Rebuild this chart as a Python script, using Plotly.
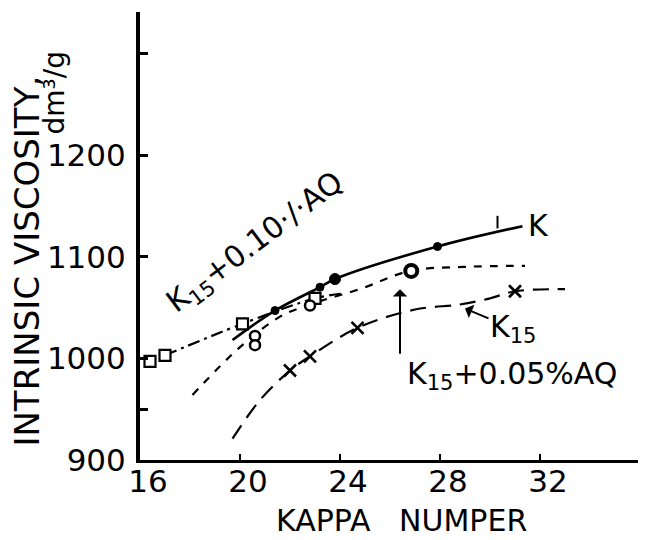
import plotly.graph_objects as go

FONT = "DejaVu Sans"

# ---- data ----
# K (solid line, filled dots)
k_line_x = [19.7, 21.4, 23.2, 23.8, 27.9, 31.3]
k_line_y = [1018, 1047, 1070, 1078, 1110, 1130]
k_pts_x = [21.4, 23.2, 23.8, 27.9]
k_pts_y = [1047, 1070, 1078, 1110]
k_pts_size = [8, 8, 11, 8]
k_tick_x = [30.3]
k_tick_y = [1134]

# K15 + 0.10 % AQ (dash-dot line, open squares)
aq10_line_x = [17.0, 20.1, 23.0, 24.2]
aq10_line_y = [1003, 1034, 1059, 1064]
aq10_pts_x = [16.4, 17.0, 20.1, 23.0]
aq10_pts_y = [997, 1003, 1034, 1059]

# K15 + 0.05 % AQ (short dashes, open circles)
aq05_line_x = [18.1, 20.0, 21.6, 22.8, 24.9, 26.8, 29.0, 31.4]
aq05_line_y = [964, 1011, 1041, 1053, 1069, 1086, 1090, 1091]
aq05_pts_x = [20.6, 20.6, 22.8, 26.85]
aq05_pts_y = [1022, 1013, 1052, 1086]

# K15 (long dashes, crosses)
k15_line_x = [19.7, 20.8, 22.0, 22.8, 24.7, 27.0, 28.8, 30.0, 31.0, 33.0]
k15_line_y = [921, 959, 988, 1002, 1030, 1048, 1053, 1059, 1066, 1068]
k15_pts_x = [22.0, 22.8, 24.7, 31.0]
k15_pts_y = [988, 1002, 1030, 1066]

x_tickvals = [16, 20, 24, 28, 32]
x_ticktext = ["16", "20", "24", "28", "32"]
y_tickvals = [900, 1000, 1100, 1200]
y_ticktext = ["900", "1000", "1100", "1200"]
y_minor_tickvals = [950, 1300]

x_range = [16, 35.92]
y_range = [900, 1340.7]

fig = go.Figure()

# lines
fig.add_trace(go.Scatter(x=k_line_x, y=k_line_y, mode="lines",
                         line=dict(color="black", width=2.6, shape="spline")))
fig.add_trace(go.Scatter(x=aq10_line_x, y=aq10_line_y, mode="lines",
                         line=dict(color="black", width=2.2, shape="spline",
                                   dash="12px,5px,3px,5px")))
fig.add_trace(go.Scatter(x=aq05_line_x, y=aq05_line_y, mode="lines",
                         line=dict(color="black", width=2.2, shape="spline",
                                   dash="8px,8px")))
fig.add_trace(go.Scatter(x=k15_line_x, y=k15_line_y, mode="lines",
                         line=dict(color="black", width=2.2, shape="spline",
                                   dash="16px,9px")))

# markers
fig.add_trace(go.Scatter(x=k_pts_x, y=k_pts_y, mode="markers",
                         marker=dict(symbol="circle", color="black", opacity=1,
                                     size=k_pts_size,
                                     line=dict(color="black", width=1))))
fig.add_trace(go.Scatter(x=k_tick_x, y=k_tick_y, mode="markers",
                         marker=dict(symbol="line-ns-open", size=9, color="black",
                                     opacity=1,
                                     line=dict(color="black", width=2))))
fig.add_trace(go.Scatter(x=aq10_pts_x, y=aq10_pts_y, mode="markers",
                         marker=dict(symbol="square", size=11, color="white",
                                     opacity=1,
                                     line=dict(color="black", width=2.2))))
fig.add_trace(go.Scatter(x=aq05_pts_x, y=aq05_pts_y, mode="markers",
                         marker=dict(symbol="circle", size=[10, 10, 10, 12],
                                     color="white", opacity=1,
                                     line=dict(color="black", width=[2.5, 2.5, 2.5, 4]))))
fig.add_trace(go.Scatter(x=k15_pts_x, y=k15_pts_y, mode="markers",
                         marker=dict(symbol="x-thin-open", size=12, color="black",
                                     opacity=1,
                                     line=dict(color="black", width=2.6))))

ann_font = dict(family=FONT, size=30, color="black")

annotations = [
    # curve labels
    dict(x=31.45, y=1131, text="K", showarrow=False, xanchor="left",
         yanchor="middle", font=ann_font),
    dict(x=20.6, y=1113, text="K<sub>15</sub>+0.10·/·AQ", showarrow=False,
         textangle=-37, font=ann_font),
    dict(x=26.6, y=983, text="K<sub>15</sub>+0.05%AQ", showarrow=False,
         xanchor="left", yanchor="middle", font=ann_font),
    dict(x=29.0, y=1049, text="K<sub>15</sub>", showarrow=True, ax=48, ay=20,
         arrowhead=1, arrowsize=1.2, arrowwidth=2, arrowcolor="black",
         font=ann_font),
    # arrow to the 0.05 % AQ point
    dict(x=26.4, y=1068, text="", showarrow=True, ax=0, ay=66,
         arrowhead=1, arrowsize=1.2, arrowwidth=2, arrowcolor="black"),
    # axis titles
    dict(xref="paper", yref="paper", x=-0.227, y=0.445,
         xanchor="center", yanchor="middle",
         text="INTRINSIC VISCOSITY,", textangle=-90, showarrow=False,
         font=dict(family=FONT, size=34, color="black")),
    dict(xref="paper", yref="paper", x=-0.171, y=0.82,
         xanchor="center", yanchor="middle",
         text="dm³/g", textangle=-90, showarrow=False,
         font=dict(family=FONT, size=28, color="black")),
    dict(xref="paper", yref="paper", x=0.526, y=-0.136,
         xanchor="center", yanchor="middle",
         text="KAPPA\u00a0\u00a0\u00a0NUMPER", showarrow=False,
         font=dict(family=FONT, size=30, color="black")),
]

fig.update_layout(
    width=647, height=532,
    margin=dict(l=132, r=17, t=4, b=80, autoexpand=False),
    paper_bgcolor="white", plot_bgcolor="white",
    showlegend=False,
    annotations=annotations,
    xaxis=dict(range=x_range, showgrid=False, zeroline=False, automargin=False,
               showline=True, linecolor="black", linewidth=3,
               ticks="inside", ticklen=6, tickwidth=2, tickcolor="black",
               tickvals=x_tickvals, ticktext=x_ticktext,
               tickfont=dict(family=FONT, size=31, color="black"),
               ticklabelshift=8, ticklabelstandoff=-8),
    yaxis=dict(range=y_range, showgrid=False, zeroline=False, automargin=False,
               showline=True, linecolor="black", linewidth=4,
               ticks="inside", ticklen=8, tickwidth=3, tickcolor="black",
               tickvals=y_tickvals, ticktext=y_ticktext,
               tickfont=dict(family=FONT, size=31, color="black"),
               ticklabelstandoff=4,
               minor=dict(tickvals=y_minor_tickvals, ticks="inside",
                          ticklen=8, tickwidth=3, tickcolor="black",
                          showgrid=False)),
)

fig.write_html("out.html")
